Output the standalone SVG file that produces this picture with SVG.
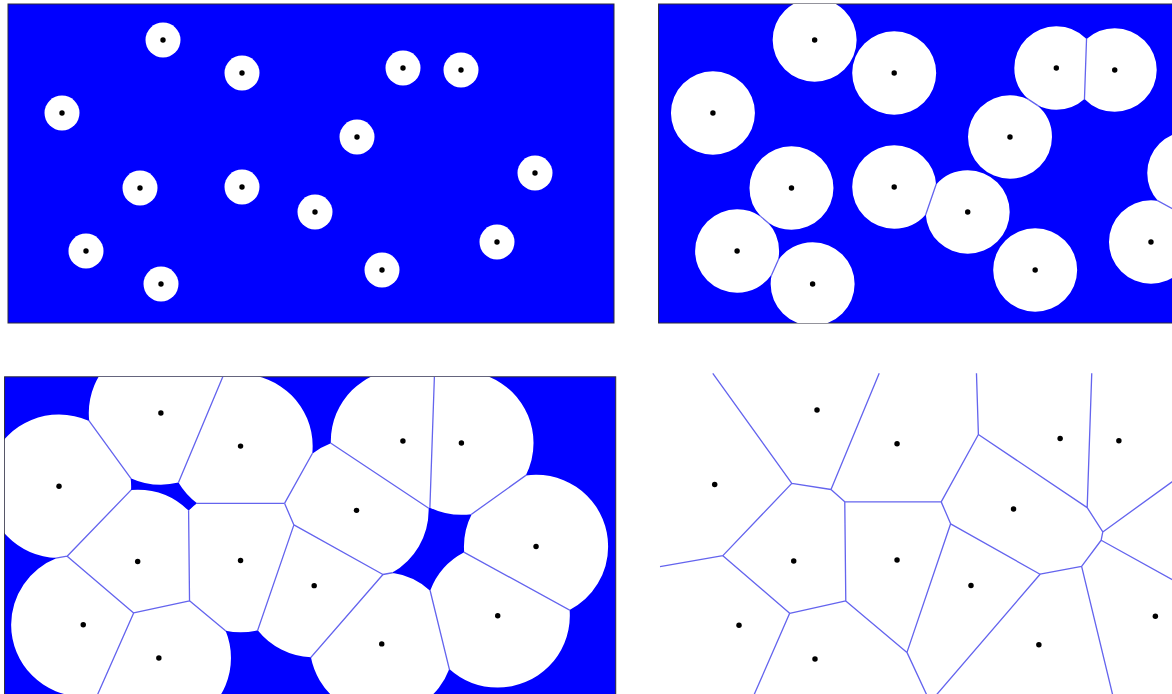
<svg xmlns="http://www.w3.org/2000/svg" xmlns:xlink="http://www.w3.org/1999/xlink" width="1172" height="694" viewBox="0 0 1172 694">
<style>
.bg{fill:#0000ff;stroke:#2a2a3a;stroke-width:1}
.disk{fill:#ffffff}
.dot{fill:#000000}
.edge{fill:none;stroke:#6464ee;stroke-width:1.3;stroke-linejoin:round}
</style>
<defs>
<path id="edges" class="edge" d="M60.1,4 L138.1,111.9 L176.8,117.9 L224.4,4 M176.8,117.9 L190.4,130 M138.1,111.9 L70.05,182.7 L8,193.5 M70.05,182.7 L136,239.2 L191.4,227.1 L190.4,130 L285.6,130 L322.3,64 L320.4,4 M136,239.2 L99.1,323 M191.4,227.1 L251.8,277.5 L273.1,323 M251.8,277.5 L294.9,151.5 L285.6,130 M322.3,64 L429.7,135.6 L434.2,4 M429.7,135.6 L445.1,159.5 L614,38.1 M445.1,159.5 L443.5,167.6 L614,261.5 M443.5,167.6 L424.2,193.2 L455.8,323 M424.2,193.2 L383.2,200.9 L294.9,151.5 M383.2,200.9 L277.5,323"/>
<g id="dots" class="dot">
<circle cx="163" cy="40" r="2.7"/><circle cx="242" cy="73" r="2.7"/><circle cx="403" cy="68" r="2.7"/><circle cx="461" cy="70" r="2.7"/><circle cx="62" cy="113" r="2.7"/><circle cx="357" cy="137" r="2.7"/><circle cx="140" cy="188" r="2.7"/><circle cx="242" cy="187" r="2.7"/><circle cx="535" cy="173" r="2.7"/><circle cx="315" cy="212" r="2.7"/><circle cx="86" cy="251" r="2.7"/><circle cx="497" cy="242" r="2.7"/><circle cx="382" cy="270" r="2.7"/><circle cx="161" cy="284" r="2.7"/>
</g>
<clipPath id="c42" clipPathUnits="userSpaceOnUse">
<circle cx="163" cy="40" r="41.7"/><circle cx="242" cy="73" r="41.7"/><circle cx="403" cy="68" r="41.7"/><circle cx="461" cy="70" r="41.7"/><circle cx="62" cy="113" r="41.7"/><circle cx="357" cy="137" r="41.7"/><circle cx="140" cy="188" r="41.7"/><circle cx="242" cy="187" r="41.7"/><circle cx="535" cy="173" r="41.7"/><circle cx="315" cy="212" r="41.7"/><circle cx="86" cy="251" r="41.7"/><circle cx="497" cy="242" r="41.7"/><circle cx="382" cy="270" r="41.7"/><circle cx="161" cy="284" r="41.7"/>
</clipPath>
<clipPath id="c72" clipPathUnits="userSpaceOnUse">
<circle cx="163" cy="40" r="71.5"/><circle cx="242" cy="73" r="71.5"/><circle cx="403" cy="68" r="71.5"/><circle cx="461" cy="70" r="71.5"/><circle cx="62" cy="113" r="71.5"/><circle cx="357" cy="137" r="71.5"/><circle cx="140" cy="188" r="71.5"/><circle cx="242" cy="187" r="71.5"/><circle cx="535" cy="173" r="71.5"/><circle cx="315" cy="212" r="71.5"/><circle cx="86" cy="251" r="71.5"/><circle cx="497" cy="242" r="71.5"/><circle cx="382" cy="270" r="71.5"/><circle cx="161" cy="284" r="71.5"/>
</clipPath>
<clipPath id="dom" clipPathUnits="userSpaceOnUse"><rect x="8" y="4" width="606" height="319"/></clipPath>
</defs>

<g id="panel1">
<rect class="bg" x="8" y="4" width="606" height="319"/>
<g class="disk">
<circle cx="163" cy="40" r="17.5"/><circle cx="242" cy="73" r="17.5"/><circle cx="403" cy="68" r="17.5"/><circle cx="461" cy="70" r="17.5"/><circle cx="62" cy="113" r="17.5"/><circle cx="357" cy="137" r="17.5"/><circle cx="140" cy="188" r="17.5"/><circle cx="242" cy="187" r="17.5"/><circle cx="535" cy="173" r="17.5"/><circle cx="315" cy="212" r="17.5"/><circle cx="86" cy="251" r="17.5"/><circle cx="497" cy="242" r="17.5"/><circle cx="382" cy="270" r="17.5"/><circle cx="161" cy="284" r="17.5"/>
</g>
<use xlink:href="#dots"/>
</g>

<g id="panel2" transform="matrix(1.007,0,0,1,650.5,0)">
<rect class="bg" x="8" y="4" width="606" height="319"/>
<g clip-path="url(#dom)">
<g clip-path="url(#c42)">
<rect class="disk" x="8" y="4" width="606" height="319"/>
<use xlink:href="#edges"/>
</g>
</g>
<use xlink:href="#dots"/>
</g>

<g id="panel3" transform="matrix(1.0085,0,0,1.004,-3.5,372.8)">
<rect class="bg" x="8" y="4" width="606" height="319"/>
<g clip-path="url(#dom)">
<g clip-path="url(#c72)">
<rect class="disk" x="8" y="4" width="606" height="319"/>
<use xlink:href="#edges"/>
</g>
</g>
<use xlink:href="#dots"/>
</g>

<g id="panel4" transform="matrix(1.013,0,0,1.0205,651.9,369.2)">
<use xlink:href="#edges"/>
<use xlink:href="#dots"/>
</g>
</svg>
